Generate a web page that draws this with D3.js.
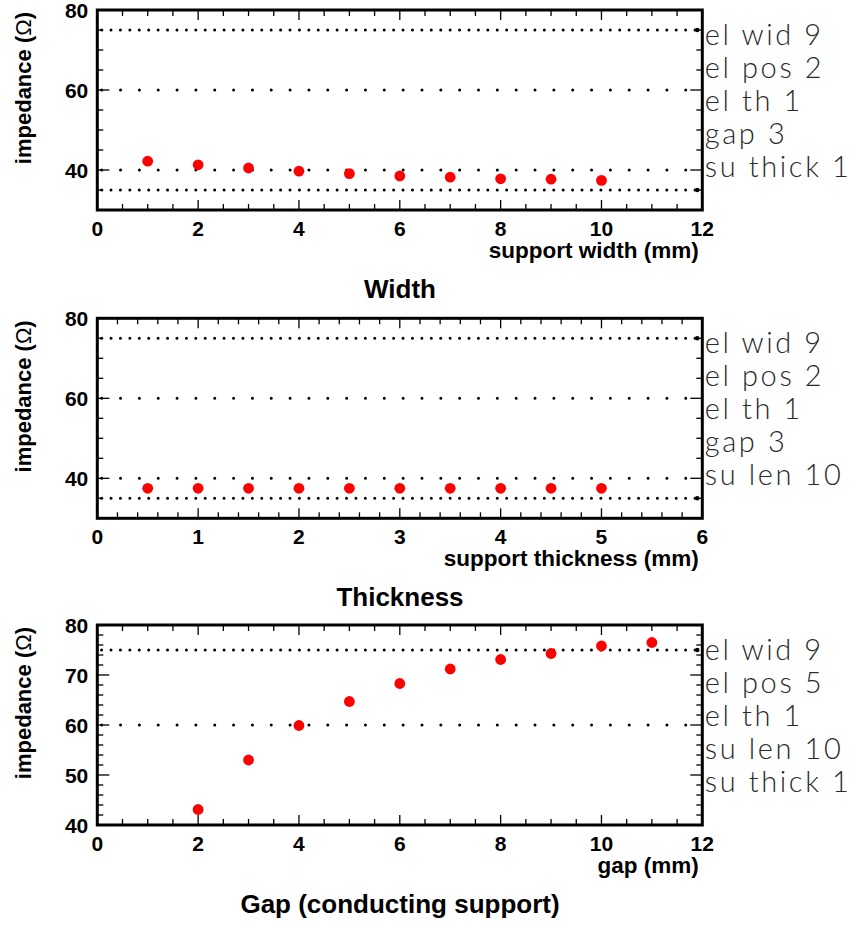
<!DOCTYPE html>
<html><head><meta charset="utf-8">
<script src="https://cdn.jsdelivr.net/npm/d3@7"></script>
<style>body{margin:0;background:#fff}svg{display:block}</style>
</head><body>
<svg id="c" width="854" height="925"></svg>
<script>
// ---- data ----
const widthX = [1,2,3,4,5,6,7,8,9,10];
const widthZ = [42.2,41.3,40.5,39.7,39.1,38.5,38.2,37.8,37.7,37.4];
const thickX = [0.5,1,1.5,2,2.5,3,3.5,4,4.5,5];
const thickZ = [37.5,37.5,37.5,37.5,37.5,37.5,37.5,37.5,37.5,37.5];
const gapX = [2,3,4,5,6,7,8,9,10,11];
const gapZ = [43.1,53.0,59.9,64.7,68.3,71.2,73.1,74.3,75.8,76.5];

const titles = ["Width","Thickness","Gap (conducting support)"];
const xTitles = ["support width (mm)","support thickness (mm)","gap (mm)"];
const yTitle = "impedance (";
const xDomains = [[0,12],[0,6],[0,12]];
const yDomains = [[30,80],[30,80],[40,80]];
const xMajor = [2,1,2], xMinor = [0.5,0.2,0.5];
const yMajor = [20,20,10], yMinor = [5,5,2];
const denseRefs = [[75,35],[75,35],[75]];
const sparseRefs = [[60,40],[60,40],[60]];
const notes = [
  ["el wid 9","el pos 2","el th 1","gap 3","su thick 1"],
  ["el wid 9","el pos 2","el th 1","gap 3","su len 10"],
  ["el wid 9","el pos 5","el th 1","su len 10","su thick 1"]
];
const seriesX = [widthX, thickX, gapX];
const seriesZ = [widthZ, thickZ, gapZ];

// ---- layout ----
const svg = d3.select("#c");
const L = 97.3, R = 702.3, H = 200;
const tops = [10, 318.3, 625];
const bold = "'Liberation Sans', Arial, Helvetica, sans-serif";

function multiples(d, step){
  const out=[];
  const start = Math.ceil(d[0]/step - 1e-9);
  const end = Math.floor(d[1]/step + 1e-9);
  for(let i=start;i<=end;i++) out.push(+(i*step).toFixed(6));
  return out;
}

tops.forEach((top, p) => {
  const x = d3.scaleLinear().domain(xDomains[p]).range([L, R]);
  const y = d3.scaleLinear().domain(yDomains[p]).range([top+H, top]);
  const g = svg.append("g");

  // reference dotted lines
  denseRefs[p].forEach(v => {
    g.append("line").attr("x1", x.range()[0]).attr("x2", x.range()[1]-5)
      .attr("y1", y(v)).attr("y2", y(v))
      .attr("stroke","#000").attr("stroke-width",3).attr("stroke-linecap","round")
      .attr("stroke-dasharray","0 9.42").attr("stroke-dashoffset",-4.3);
    g.append("circle").attr("cx", x.range()[1]-5).attr("cy", y(v)).attr("r",2.2).attr("fill","#000");
  });
  sparseRefs[p].forEach(v => {
    g.append("line").attr("x1", x.range()[0]).attr("x2", x.range()[1]-5)
      .attr("y1", y(v)).attr("y2", y(v))
      .attr("stroke","#000").attr("stroke-width",3).attr("stroke-linecap","round")
      .attr("stroke-dasharray","0 18.84").attr("stroke-dashoffset",-4.4);
  });

  // ticks
  const xMaj = multiples(xDomains[p], xMajor[p]);
  const xMin = multiples(xDomains[p], xMinor[p]);
  const yMaj = multiples(yDomains[p], yMajor[p]);
  const yMin = multiples(yDomains[p], yMinor[p]);
  const tk = g.append("g").attr("stroke","#000").attr("stroke-width",1.3);
  xMin.forEach(v => {
    const len = xMaj.some(m => Math.abs(m-v)<1e-6) ? 10 : 6;
    tk.append("line").attr("x1",x(v)).attr("x2",x(v)).attr("y1",top+H).attr("y2",top+H-len);
    tk.append("line").attr("x1",x(v)).attr("x2",x(v)).attr("y1",top).attr("y2",top+len);
  });
  yMin.forEach(v => {
    const len = yMaj.some(m => Math.abs(m-v)<1e-6) ? 12 : 6;
    tk.append("line").attr("y1",y(v)).attr("y2",y(v)).attr("x1",L).attr("x2",L+len);
    tk.append("line").attr("y1",y(v)).attr("y2",y(v)).attr("x1",R).attr("x2",R-len);
  });

  // frame
  g.append("rect").attr("x",L).attr("y",top).attr("width",R-L).attr("height",H)
    .attr("fill","none").attr("stroke","#000").attr("stroke-width",3);

  // tick labels
  const fmt = d3.format("d");
  g.selectAll(null).data(xMaj).enter().append("text")
    .attr("x", d => x(d)).attr("y", top+H+25.5)
    .attr("text-anchor","middle").attr("font-family",bold).attr("font-weight","bold")
    .attr("font-size",21).text(fmt);
  g.selectAll(null).data(yMaj).enter().append("text")
    .attr("x", L-9).attr("y", d => y(d)+7.5)
    .attr("text-anchor","end").attr("font-family",bold).attr("font-weight","bold")
    .attr("font-size",21).text(fmt);

  // axis titles
  g.append("text").attr("x", R-3.5).attr("y", top+H+48)
    .attr("text-anchor","end").attr("font-family",bold).attr("font-weight","bold")
    .attr("font-size",22.5).text(xTitles[p]);
  const yt = g.append("text").attr("transform",`translate(31,${top+2}) rotate(-90)`)
    .attr("text-anchor","end").attr("font-family",bold).attr("font-weight","bold")
    .attr("font-size",22);
  yt.append("tspan").text(yTitle);
  yt.append("tspan").attr("font-weight","normal").text("\u03A9");
  yt.append("tspan").text(")");

  // panel title
  g.append("text").attr("x", 400).attr("y", top+H+88)
    .attr("text-anchor","middle").attr("font-family",bold).attr("font-weight","bold")
    .attr("font-size",26).text(titles[p]);

  // notes on right
  g.selectAll(null).data(notes[p]).enter().append("text")
    .attr("x", R+2.5).attr("y", (d,i) => top + 35 + i*33)
    .attr("font-family","'Lato','Roboto','Open Sans','DejaVu Sans',sans-serif")
    .attr("font-weight",300).attr("font-size",29).attr("letter-spacing",2.6)
    .attr("fill","#2a2a2a")
    .text(d => d);

  // points
  g.selectAll(null).data(seriesX[p].map((v,i)=>[v, seriesZ[p][i]])).enter()
    .append("circle").attr("cx", d => x(d[0])).attr("cy", d => y(d[1]))
    .attr("r",5.4).attr("fill","#ff0000");
});
</script>
</body></html>
